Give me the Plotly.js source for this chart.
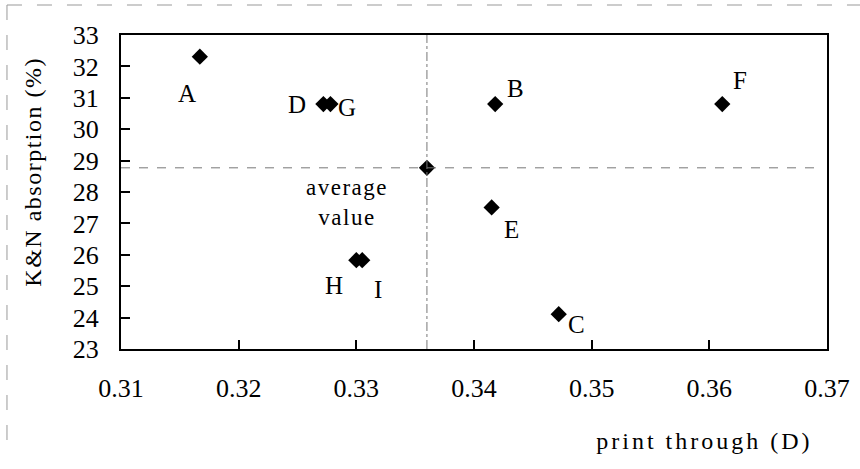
<!DOCTYPE html>
<html>
<head>
<meta charset="utf-8">
<script src="https://cdn.plot.ly/plotly-3.0.1.min.js"></script>
<style>
html,body{margin:0;padding:0;background:#fff;}
#chart{width:860px;height:469px;}
.annotation-text{letter-spacing:1.5px;}
.annotation[data-index="10"] .annotation-text{letter-spacing:3px;}
</style>
</head>
<body>
<div id="chart"></div>
<script>
// ---- data ----
const sampleNames = ['A', 'B', 'C', 'D', 'E', 'F', 'G', 'H', 'I'];
const printThrough = [0.3167, 0.3418, 0.3472, 0.3272, 0.3415, 0.3611, 0.3278, 0.3300, 0.3305];
const knAbsorption = [32.31, 30.80, 24.11, 30.80, 27.51, 30.80, 30.80, 25.83, 25.83];
const averageLabel = 'average<br>value';
const averagePrintThrough = 0.3360;
const averageAbsorption = 28.77;
const xTickValues = [0.31, 0.32, 0.33, 0.34, 0.35, 0.36, 0.37];
const xTickLabels = ['0.31', '0.32', '0.33', '0.34', '0.35', '0.36', '0.37'];
const yTickValues = [23, 24, 25, 26, 27, 28, 29, 30, 31, 32, 33];
const xTitle = 'print through (D)';
const yTitle = 'K&amp;N absorption (%)';

// ---- label placement (pixel shifts, style only) ----
const labelShift = {
  A: [-12, -37], B: [21, 16], C: [18, -10], D: [-25, 0], E: [21, -22],
  F: [18, 24], G: [18, -3], H: [-21, -25], I: [17, -29]
};

const FONT = 'Liberation Serif';

const traces = [
  {
    type: 'scatter', mode: 'markers',
    x: printThrough, y: knAbsorption,
    marker: {symbol: 'diamond', size: 12.5, color: '#000', line: {width: 0}},
    hoverinfo: 'skip', showlegend: false
  },
  {
    type: 'scatter', mode: 'markers',
    x: [averagePrintThrough], y: [averageAbsorption],
    marker: {symbol: 'diamond', size: 12.5, color: '#000', line: {width: 0}},
    hoverinfo: 'skip', showlegend: false
  }
];

const annotations = sampleNames.map((n, i) => ({
  x: printThrough[i], y: knAbsorption[i], xref: 'x', yref: 'y',
  text: n, showarrow: false,
  xshift: labelShift[n][0], yshift: labelShift[n][1],
  font: {family: FONT, size: 25, color: '#000'}
}));
annotations.push({
  x: averagePrintThrough, y: averageAbsorption, xref: 'x', yref: 'y',
  text: averageLabel, showarrow: false, align: 'center',
  xshift: -80, yshift: -35,
  font: {family: FONT, size: 23, color: '#000'}
});
annotations.push({
  x: 0.826, xref: 'paper', y: -0.293, yref: 'paper',
  xanchor: 'center', yanchor: 'middle',
  text: xTitle, showarrow: false,
  font: {family: FONT, size: 24, color: '#000'}
});
annotations.push({
  x: -0.125, xref: 'paper', y: 0.564, yref: 'paper',
  xanchor: 'center', yanchor: 'middle', textangle: -90,
  text: yTitle, showarrow: false,
  font: {family: FONT, size: 24, color: '#000'}
});

const shapes = [
  // average reference lines
  {type: 'line', xref: 'x', yref: 'paper', x0: averagePrintThrough, x1: averagePrintThrough, y0: 0, y1: 1,
   line: {color: '#777', width: 1, dash: 'dashdot'}},
  {type: 'line', xref: 'paper', yref: 'y', x0: 0, x1: 0.982, y0: averageAbsorption, y1: averageAbsorption,
   line: {color: '#777', width: 1, dash: 'dash'}},
  // outer chart-area border (top and left)
  {type: 'line', xref: 'paper', yref: 'paper', x0: -0.1615, x1: 1.1, y0: 1.0955, y1: 1.0955,
   line: {color: '#999', width: 1, dash: 'longdash'}},
  {type: 'line', xref: 'paper', yref: 'paper', x0: -0.1615, x1: -0.1615, y0: 1.0955, y1: -0.33,
   line: {color: '#999', width: 1, dash: 'longdash'}}
];

const layout = {
  width: 860, height: 469,
  margin: {l: 121, r: 33, t: 35, b: 120},
  paper_bgcolor: '#fff', plot_bgcolor: '#fff',
  showlegend: false,
  font: {family: FONT, color: '#000'},
  xaxis: {
    range: [0.31, 0.37], tickvals: xTickValues, ticktext: xTickLabels,
    ticks: 'inside', ticklen: 9, tickwidth: 2, tickcolor: '#000',
    showline: true, linewidth: 2, linecolor: '#000', mirror: true,
    showgrid: false, zeroline: false, ticklabelstandoff: 15,
    tickfont: {family: FONT, size: 26, color: '#000'}
  },
  yaxis: {
    range: [23, 33], tickvals: yTickValues,
    ticks: 'inside', ticklen: 9, tickwidth: 2, tickcolor: '#000',
    showline: true, linewidth: 2, linecolor: '#000', mirror: true,
    showgrid: false, zeroline: false, ticklabelstandoff: 15,
    tickfont: {family: FONT, size: 26, color: '#000'}
  },
  annotations: annotations,
  shapes: shapes
};

Plotly.newPlot('chart', traces, layout, {staticPlot: true, displayModeBar: false});
</script>
</body>
</html>
